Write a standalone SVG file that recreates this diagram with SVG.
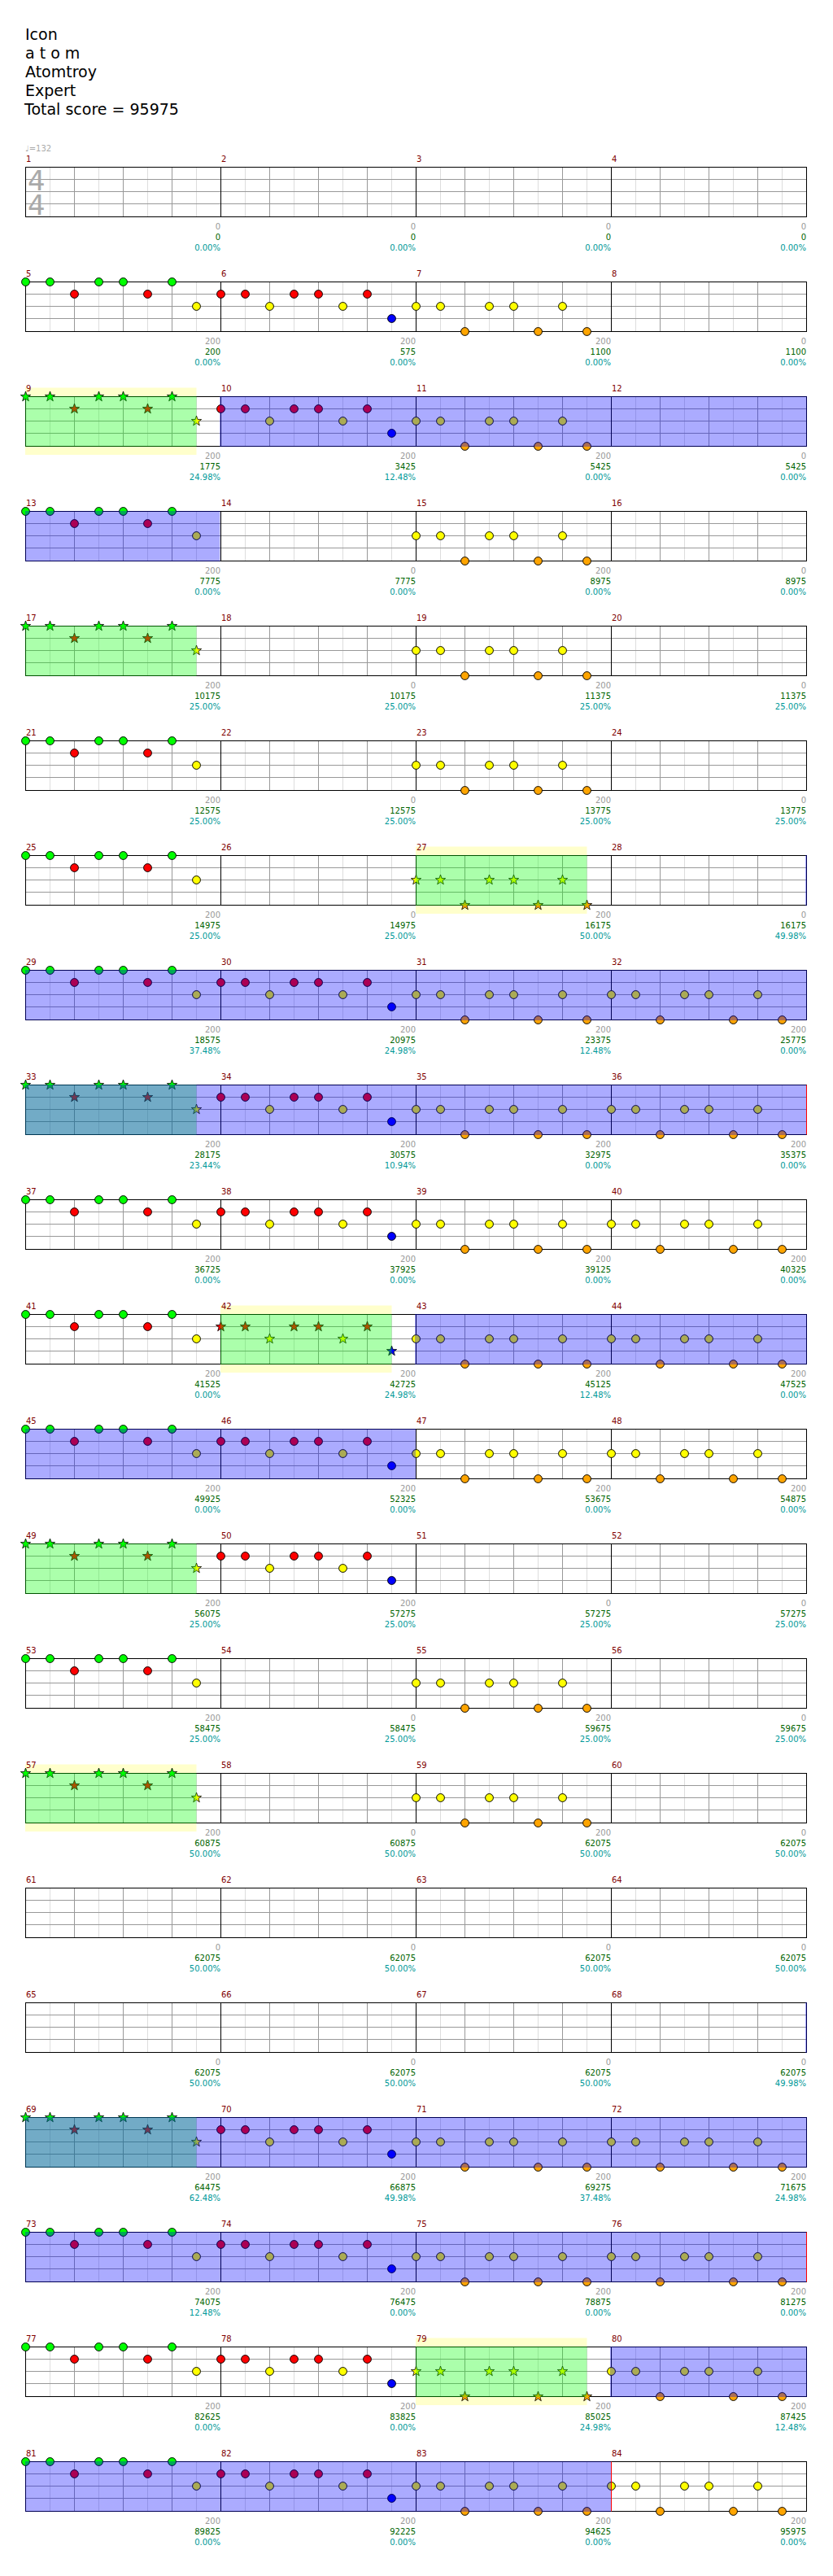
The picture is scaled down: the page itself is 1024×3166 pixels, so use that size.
<svg xmlns="http://www.w3.org/2000/svg" xmlns:xlink="http://www.w3.org/1999/xlink" width="1024" height="3166" viewBox="0 0 1024 3166">
<style>
text{font-family:"DejaVu Sans",sans-serif}
.h{font-size:19px;fill:#000}
.mn{font-size:10px;fill:#800000}
.a,.b,.c{font-size:10px;text-anchor:end}
.a{fill:#999}
.b{fill:#006400}
.c{fill:#009999}
.ts{font-size:34px;fill:#aaa}
.tp{font-size:10px;fill:#aaa}
.yb{fill:#ffffcc}
.gov{fill:#00ff00;fill-opacity:0.33}
.bov{fill:#0000ff;fill-opacity:0.33}
</style>
<defs>
<path id="st" d="M0,-6.5L1.53,-2.1L6.18,-2.01L2.47,0.8L3.82,5.26L0,2.6L-3.82,5.26L-2.47,0.8L-6.18,-2.01L-1.53,-2.1Z"/>
<g id="staff">
<rect x="31.5" y="0" width="960" height="61" fill="#fff"/>
<path stroke="#ddd" fill="none" d="M61.5 0V61M121.5 0V61M181.5 0V61M241.5 0V61M301.5 0V61M361.5 0V61M421.5 0V61M481.5 0V61M541.5 0V61M601.5 0V61M661.5 0V61M721.5 0V61M781.5 0V61M841.5 0V61M901.5 0V61M961.5 0V61"/>
<path stroke="#999" fill="none" d="M91.5 0V61M151.5 0V61M211.5 0V61M331.5 0V61M391.5 0V61M451.5 0V61M571.5 0V61M631.5 0V61M691.5 0V61M811.5 0V61M871.5 0V61M931.5 0V61M31.5 15H991.5M31.5 30H991.5M31.5 45H991.5"/>
<path stroke="#000" fill="none" d="M271.5 0V61M511.5 0V61M751.5 0V61"/>
<rect x="31.5" y="0" width="960" height="61" fill="none" stroke="#000"/>
</g>
<g id="pA" stroke="#000">
<circle cx="0" cy="0" r="4.9" fill="#00ff00"/><circle cx="30" cy="0" r="4.9" fill="#00ff00"/><circle cx="90" cy="0" r="4.9" fill="#00ff00"/><circle cx="120" cy="0" r="4.9" fill="#00ff00"/><circle cx="180" cy="0" r="4.9" fill="#00ff00"/>
<circle cx="60" cy="15" r="4.9" fill="#ff0000"/><circle cx="150" cy="15" r="4.9" fill="#ff0000"/>
<circle cx="210" cy="30" r="4.9" fill="#ffff00"/>
</g>
<g id="pB" stroke="#000">
<circle cx="0" cy="15" r="4.9" fill="#ff0000"/><circle cx="30" cy="15" r="4.9" fill="#ff0000"/><circle cx="90" cy="15" r="4.9" fill="#ff0000"/><circle cx="120" cy="15" r="4.9" fill="#ff0000"/><circle cx="180" cy="15" r="4.9" fill="#ff0000"/>
<circle cx="60" cy="30" r="4.9" fill="#ffff00"/><circle cx="150" cy="30" r="4.9" fill="#ffff00"/>
<circle cx="210" cy="45" r="4.9" fill="#0000ff"/>
</g>
<g id="pC" stroke="#000">
<circle cx="0" cy="30" r="4.9" fill="#ffff00"/><circle cx="30" cy="30" r="4.9" fill="#ffff00"/><circle cx="90" cy="30" r="4.9" fill="#ffff00"/><circle cx="120" cy="30" r="4.9" fill="#ffff00"/><circle cx="180" cy="30" r="4.9" fill="#ffff00"/>
<circle cx="60" cy="61" r="4.9" fill="#ffa500"/><circle cx="150" cy="61" r="4.9" fill="#ffa500"/><circle cx="210" cy="61" r="4.9" fill="#ffa500"/>
</g>
<g id="sA" stroke="#000" stroke-width="0.8">
<use href="#st" x="0" y="0" fill="#00ff00"/><use href="#st" x="30" y="0" fill="#00ff00"/><use href="#st" x="90" y="0" fill="#00ff00"/><use href="#st" x="120" y="0" fill="#00ff00"/><use href="#st" x="180" y="0" fill="#00ff00"/>
<use href="#st" x="60" y="15" fill="#ff0000"/><use href="#st" x="150" y="15" fill="#ff0000"/>
<use href="#st" x="210" y="30" fill="#ffff00"/>
</g>
<g id="sB" stroke="#000" stroke-width="0.8">
<use href="#st" x="0" y="15" fill="#ff0000"/><use href="#st" x="30" y="15" fill="#ff0000"/><use href="#st" x="90" y="15" fill="#ff0000"/><use href="#st" x="120" y="15" fill="#ff0000"/><use href="#st" x="180" y="15" fill="#ff0000"/>
<use href="#st" x="60" y="30" fill="#ffff00"/><use href="#st" x="150" y="30" fill="#ffff00"/>
<use href="#st" x="210" y="45" fill="#0000ff"/>
</g>
<g id="sC" stroke="#000" stroke-width="0.8">
<use href="#st" x="0" y="30" fill="#ffff00"/><use href="#st" x="30" y="30" fill="#ffff00"/><use href="#st" x="90" y="30" fill="#ffff00"/><use href="#st" x="120" y="30" fill="#ffff00"/><use href="#st" x="180" y="30" fill="#ffff00"/>
<use href="#st" x="60" y="61" fill="#ffa500"/><use href="#st" x="150" y="61" fill="#ffa500"/><use href="#st" x="210" y="61" fill="#ffa500"/>
</g>
</defs>
<rect width="1024" height="3166" fill="#fff"/>
<g id="header">
<text class="h" x="31" y="49">Icon</text>
<text class="h" x="31" y="72">a t o m</text>
<text class="h" x="31" y="95">Atomtroy</text>
<text class="h" x="31" y="118">Expert</text>
<text class="h" x="30" y="141">Total score = 95975</text>
</g>
<g id="row-1" transform="translate(0,205.5)">
<text class="tp" x="31" y="-20">♩=132</text>
<use href="#staff"/>
<text class="ts" x="34" y="28">4<tspan x="34" y="58">4</tspan></text>
<text class="mn" x="32" y="-7">1</text><text class="mn" x="272" y="-7">2</text><text class="mn" x="512" y="-7">3</text><text class="mn" x="752" y="-7">4</text>
<text class="a" x="271" y="76.5">0</text><text class="b" x="271" y="89.5">0</text><text class="c" x="271" y="102.5">0.00%</text>
<text class="a" x="511" y="76.5">0</text><text class="b" x="511" y="89.5">0</text><text class="c" x="511" y="102.5">0.00%</text>
<text class="a" x="751" y="76.5">0</text><text class="b" x="751" y="89.5">0</text><text class="c" x="751" y="102.5">0.00%</text>
<text class="a" x="991" y="76.5">0</text><text class="b" x="991" y="89.5">0</text><text class="c" x="991" y="102.5">0.00%</text>
</g>
<g id="row-5" transform="translate(0,346.5)">
<use href="#staff"/>
<use href="#pA" x="31.5"/><use href="#pB" x="271.5"/><use href="#pC" x="511.5"/>
<text class="mn" x="32" y="-7">5</text><text class="mn" x="272" y="-7">6</text><text class="mn" x="512" y="-7">7</text><text class="mn" x="752" y="-7">8</text>
<text class="a" x="271" y="76.5">200</text><text class="b" x="271" y="89.5">200</text><text class="c" x="271" y="102.5">0.00%</text>
<text class="a" x="511" y="76.5">200</text><text class="b" x="511" y="89.5">575</text><text class="c" x="511" y="102.5">0.00%</text>
<text class="a" x="751" y="76.5">200</text><text class="b" x="751" y="89.5">1100</text><text class="c" x="751" y="102.5">0.00%</text>
<text class="a" x="991" y="76.5">0</text><text class="b" x="991" y="89.5">1100</text><text class="c" x="991" y="102.5">0.00%</text>
</g>
<g id="row-9" transform="translate(0,487.5)">
<rect class="yb" x="31" y="-11" width="210.5" height="82.5"/>
<use href="#staff"/>
<use href="#sA" x="31.5"/><use href="#pB" x="271.5"/><use href="#pC" x="511.5"/>
<rect class="gov" x="31" y="-0.5" width="210.5" height="62"/>
<rect class="bov" x="270" y="-0.5" width="722" height="62"/>
<text class="mn" x="32" y="-7">9</text><text class="mn" x="272" y="-7">10</text><text class="mn" x="512" y="-7">11</text><text class="mn" x="752" y="-7">12</text>
<text class="a" x="271" y="76.5">200</text><text class="b" x="271" y="89.5">1775</text><text class="c" x="271" y="102.5">24.98%</text>
<text class="a" x="511" y="76.5">200</text><text class="b" x="511" y="89.5">3425</text><text class="c" x="511" y="102.5">12.48%</text>
<text class="a" x="751" y="76.5">200</text><text class="b" x="751" y="89.5">5425</text><text class="c" x="751" y="102.5">0.00%</text>
<text class="a" x="991" y="76.5">0</text><text class="b" x="991" y="89.5">5425</text><text class="c" x="991" y="102.5">0.00%</text>
</g>
<g id="row-13" transform="translate(0,628.5)">
<use href="#staff"/>
<use href="#pA" x="31.5"/><use href="#pC" x="511.5"/>
<rect class="bov" x="31" y="-0.5" width="239.5" height="62"/>
<text class="mn" x="32" y="-7">13</text><text class="mn" x="272" y="-7">14</text><text class="mn" x="512" y="-7">15</text><text class="mn" x="752" y="-7">16</text>
<text class="a" x="271" y="76.5">200</text><text class="b" x="271" y="89.5">7775</text><text class="c" x="271" y="102.5">0.00%</text>
<text class="a" x="511" y="76.5">0</text><text class="b" x="511" y="89.5">7775</text><text class="c" x="511" y="102.5">0.00%</text>
<text class="a" x="751" y="76.5">200</text><text class="b" x="751" y="89.5">8975</text><text class="c" x="751" y="102.5">0.00%</text>
<text class="a" x="991" y="76.5">0</text><text class="b" x="991" y="89.5">8975</text><text class="c" x="991" y="102.5">0.00%</text>
</g>
<g id="row-17" transform="translate(0,769.5)">
<use href="#staff"/>
<use href="#sA" x="31.5"/><use href="#pC" x="511.5"/>
<rect class="gov" x="31" y="-0.5" width="210.5" height="62"/>
<text class="mn" x="32" y="-7">17</text><text class="mn" x="272" y="-7">18</text><text class="mn" x="512" y="-7">19</text><text class="mn" x="752" y="-7">20</text>
<text class="a" x="271" y="76.5">200</text><text class="b" x="271" y="89.5">10175</text><text class="c" x="271" y="102.5">25.00%</text>
<text class="a" x="511" y="76.5">0</text><text class="b" x="511" y="89.5">10175</text><text class="c" x="511" y="102.5">25.00%</text>
<text class="a" x="751" y="76.5">200</text><text class="b" x="751" y="89.5">11375</text><text class="c" x="751" y="102.5">25.00%</text>
<text class="a" x="991" y="76.5">0</text><text class="b" x="991" y="89.5">11375</text><text class="c" x="991" y="102.5">25.00%</text>
</g>
<g id="row-21" transform="translate(0,910.5)">
<use href="#staff"/>
<use href="#pA" x="31.5"/><use href="#pC" x="511.5"/>
<text class="mn" x="32" y="-7">21</text><text class="mn" x="272" y="-7">22</text><text class="mn" x="512" y="-7">23</text><text class="mn" x="752" y="-7">24</text>
<text class="a" x="271" y="76.5">200</text><text class="b" x="271" y="89.5">12575</text><text class="c" x="271" y="102.5">25.00%</text>
<text class="a" x="511" y="76.5">0</text><text class="b" x="511" y="89.5">12575</text><text class="c" x="511" y="102.5">25.00%</text>
<text class="a" x="751" y="76.5">200</text><text class="b" x="751" y="89.5">13775</text><text class="c" x="751" y="102.5">25.00%</text>
<text class="a" x="991" y="76.5">0</text><text class="b" x="991" y="89.5">13775</text><text class="c" x="991" y="102.5">25.00%</text>
</g>
<g id="row-25" transform="translate(0,1051.5)">
<rect class="yb" x="511" y="-11" width="210.5" height="82.5"/>
<use href="#staff"/>
<use href="#pA" x="31.5"/><use href="#sC" x="511.5"/>
<rect class="gov" x="511" y="-0.5" width="210.5" height="62"/>
<rect class="bov" x="990" y="-0.5" width="2" height="62"/>
<text class="mn" x="32" y="-7">25</text><text class="mn" x="272" y="-7">26</text><text class="mn" x="512" y="-7">27</text><text class="mn" x="752" y="-7">28</text>
<text class="a" x="271" y="76.5">200</text><text class="b" x="271" y="89.5">14975</text><text class="c" x="271" y="102.5">25.00%</text>
<text class="a" x="511" y="76.5">0</text><text class="b" x="511" y="89.5">14975</text><text class="c" x="511" y="102.5">25.00%</text>
<text class="a" x="751" y="76.5">200</text><text class="b" x="751" y="89.5">16175</text><text class="c" x="751" y="102.5">50.00%</text>
<text class="a" x="991" y="76.5">0</text><text class="b" x="991" y="89.5">16175</text><text class="c" x="991" y="102.5">49.98%</text>
</g>
<g id="row-29" transform="translate(0,1192.5)">
<use href="#staff"/>
<use href="#pA" x="31.5"/><use href="#pB" x="271.5"/><use href="#pC" x="511.5"/><use href="#pC" x="751.5"/>
<rect class="bov" x="31" y="-0.5" width="961" height="62"/>
<text class="mn" x="32" y="-7">29</text><text class="mn" x="272" y="-7">30</text><text class="mn" x="512" y="-7">31</text><text class="mn" x="752" y="-7">32</text>
<text class="a" x="271" y="76.5">200</text><text class="b" x="271" y="89.5">18575</text><text class="c" x="271" y="102.5">37.48%</text>
<text class="a" x="511" y="76.5">200</text><text class="b" x="511" y="89.5">20975</text><text class="c" x="511" y="102.5">24.98%</text>
<text class="a" x="751" y="76.5">200</text><text class="b" x="751" y="89.5">23375</text><text class="c" x="751" y="102.5">12.48%</text>
<text class="a" x="991" y="76.5">200</text><text class="b" x="991" y="89.5">25775</text><text class="c" x="991" y="102.5">0.00%</text>
</g>
<g id="row-33" transform="translate(0,1333.5)">
<use href="#staff"/>
<use href="#sA" x="31.5"/><use href="#pB" x="271.5"/><use href="#pC" x="511.5"/><use href="#pC" x="751.5"/>
<rect class="gov" x="31" y="-0.5" width="210.5" height="62"/>
<rect class="bov" x="31" y="-0.5" width="960" height="62"/>
<path d="M991.5 0V61" stroke="#ff0000"/>
<text class="mn" x="32" y="-7">33</text><text class="mn" x="272" y="-7">34</text><text class="mn" x="512" y="-7">35</text><text class="mn" x="752" y="-7">36</text>
<text class="a" x="271" y="76.5">200</text><text class="b" x="271" y="89.5">28175</text><text class="c" x="271" y="102.5">23.44%</text>
<text class="a" x="511" y="76.5">200</text><text class="b" x="511" y="89.5">30575</text><text class="c" x="511" y="102.5">10.94%</text>
<text class="a" x="751" y="76.5">200</text><text class="b" x="751" y="89.5">32975</text><text class="c" x="751" y="102.5">0.00%</text>
<text class="a" x="991" y="76.5">200</text><text class="b" x="991" y="89.5">35375</text><text class="c" x="991" y="102.5">0.00%</text>
</g>
<g id="row-37" transform="translate(0,1474.5)">
<use href="#staff"/>
<use href="#pA" x="31.5"/><use href="#pB" x="271.5"/><use href="#pC" x="511.5"/><use href="#pC" x="751.5"/>
<text class="mn" x="32" y="-7">37</text><text class="mn" x="272" y="-7">38</text><text class="mn" x="512" y="-7">39</text><text class="mn" x="752" y="-7">40</text>
<text class="a" x="271" y="76.5">200</text><text class="b" x="271" y="89.5">36725</text><text class="c" x="271" y="102.5">0.00%</text>
<text class="a" x="511" y="76.5">200</text><text class="b" x="511" y="89.5">37925</text><text class="c" x="511" y="102.5">0.00%</text>
<text class="a" x="751" y="76.5">200</text><text class="b" x="751" y="89.5">39125</text><text class="c" x="751" y="102.5">0.00%</text>
<text class="a" x="991" y="76.5">200</text><text class="b" x="991" y="89.5">40325</text><text class="c" x="991" y="102.5">0.00%</text>
</g>
<g id="row-41" transform="translate(0,1615.5)">
<rect class="yb" x="271" y="-11" width="210.5" height="82.5"/>
<use href="#staff"/>
<use href="#pA" x="31.5"/><use href="#sB" x="271.5"/><use href="#pC" x="511.5"/><use href="#pC" x="751.5"/>
<rect class="gov" x="271" y="-0.5" width="210.5" height="62"/>
<rect class="bov" x="510" y="-0.5" width="482" height="62"/>
<text class="mn" x="32" y="-7">41</text><text class="mn" x="272" y="-7">42</text><text class="mn" x="512" y="-7">43</text><text class="mn" x="752" y="-7">44</text>
<text class="a" x="271" y="76.5">200</text><text class="b" x="271" y="89.5">41525</text><text class="c" x="271" y="102.5">0.00%</text>
<text class="a" x="511" y="76.5">200</text><text class="b" x="511" y="89.5">42725</text><text class="c" x="511" y="102.5">24.98%</text>
<text class="a" x="751" y="76.5">200</text><text class="b" x="751" y="89.5">45125</text><text class="c" x="751" y="102.5">12.48%</text>
<text class="a" x="991" y="76.5">200</text><text class="b" x="991" y="89.5">47525</text><text class="c" x="991" y="102.5">0.00%</text>
</g>
<g id="row-45" transform="translate(0,1756.5)">
<use href="#staff"/>
<use href="#pA" x="31.5"/><use href="#pB" x="271.5"/><use href="#pC" x="511.5"/><use href="#pC" x="751.5"/>
<rect class="bov" x="31" y="-0.5" width="480" height="62"/>
<text class="mn" x="32" y="-7">45</text><text class="mn" x="272" y="-7">46</text><text class="mn" x="512" y="-7">47</text><text class="mn" x="752" y="-7">48</text>
<text class="a" x="271" y="76.5">200</text><text class="b" x="271" y="89.5">49925</text><text class="c" x="271" y="102.5">0.00%</text>
<text class="a" x="511" y="76.5">200</text><text class="b" x="511" y="89.5">52325</text><text class="c" x="511" y="102.5">0.00%</text>
<text class="a" x="751" y="76.5">200</text><text class="b" x="751" y="89.5">53675</text><text class="c" x="751" y="102.5">0.00%</text>
<text class="a" x="991" y="76.5">200</text><text class="b" x="991" y="89.5">54875</text><text class="c" x="991" y="102.5">0.00%</text>
</g>
<g id="row-49" transform="translate(0,1897.5)">
<use href="#staff"/>
<use href="#sA" x="31.5"/><use href="#pB" x="271.5"/>
<rect class="gov" x="31" y="-0.5" width="210.5" height="62"/>
<text class="mn" x="32" y="-7">49</text><text class="mn" x="272" y="-7">50</text><text class="mn" x="512" y="-7">51</text><text class="mn" x="752" y="-7">52</text>
<text class="a" x="271" y="76.5">200</text><text class="b" x="271" y="89.5">56075</text><text class="c" x="271" y="102.5">25.00%</text>
<text class="a" x="511" y="76.5">200</text><text class="b" x="511" y="89.5">57275</text><text class="c" x="511" y="102.5">25.00%</text>
<text class="a" x="751" y="76.5">0</text><text class="b" x="751" y="89.5">57275</text><text class="c" x="751" y="102.5">25.00%</text>
<text class="a" x="991" y="76.5">0</text><text class="b" x="991" y="89.5">57275</text><text class="c" x="991" y="102.5">25.00%</text>
</g>
<g id="row-53" transform="translate(0,2038.5)">
<use href="#staff"/>
<use href="#pA" x="31.5"/><use href="#pC" x="511.5"/>
<text class="mn" x="32" y="-7">53</text><text class="mn" x="272" y="-7">54</text><text class="mn" x="512" y="-7">55</text><text class="mn" x="752" y="-7">56</text>
<text class="a" x="271" y="76.5">200</text><text class="b" x="271" y="89.5">58475</text><text class="c" x="271" y="102.5">25.00%</text>
<text class="a" x="511" y="76.5">0</text><text class="b" x="511" y="89.5">58475</text><text class="c" x="511" y="102.5">25.00%</text>
<text class="a" x="751" y="76.5">200</text><text class="b" x="751" y="89.5">59675</text><text class="c" x="751" y="102.5">25.00%</text>
<text class="a" x="991" y="76.5">0</text><text class="b" x="991" y="89.5">59675</text><text class="c" x="991" y="102.5">25.00%</text>
</g>
<g id="row-57" transform="translate(0,2179.5)">
<rect class="yb" x="31" y="-11" width="210.5" height="82.5"/>
<use href="#staff"/>
<use href="#sA" x="31.5"/><use href="#pC" x="511.5"/>
<rect class="gov" x="31" y="-0.5" width="210.5" height="62"/>
<text class="mn" x="32" y="-7">57</text><text class="mn" x="272" y="-7">58</text><text class="mn" x="512" y="-7">59</text><text class="mn" x="752" y="-7">60</text>
<text class="a" x="271" y="76.5">200</text><text class="b" x="271" y="89.5">60875</text><text class="c" x="271" y="102.5">50.00%</text>
<text class="a" x="511" y="76.5">0</text><text class="b" x="511" y="89.5">60875</text><text class="c" x="511" y="102.5">50.00%</text>
<text class="a" x="751" y="76.5">200</text><text class="b" x="751" y="89.5">62075</text><text class="c" x="751" y="102.5">50.00%</text>
<text class="a" x="991" y="76.5">0</text><text class="b" x="991" y="89.5">62075</text><text class="c" x="991" y="102.5">50.00%</text>
</g>
<g id="row-61" transform="translate(0,2320.5)">
<use href="#staff"/>
<text class="mn" x="32" y="-7">61</text><text class="mn" x="272" y="-7">62</text><text class="mn" x="512" y="-7">63</text><text class="mn" x="752" y="-7">64</text>
<text class="a" x="271" y="76.5">0</text><text class="b" x="271" y="89.5">62075</text><text class="c" x="271" y="102.5">50.00%</text>
<text class="a" x="511" y="76.5">0</text><text class="b" x="511" y="89.5">62075</text><text class="c" x="511" y="102.5">50.00%</text>
<text class="a" x="751" y="76.5">0</text><text class="b" x="751" y="89.5">62075</text><text class="c" x="751" y="102.5">50.00%</text>
<text class="a" x="991" y="76.5">0</text><text class="b" x="991" y="89.5">62075</text><text class="c" x="991" y="102.5">50.00%</text>
</g>
<g id="row-65" transform="translate(0,2461.5)">
<use href="#staff"/>
<rect class="bov" x="990" y="-0.5" width="2" height="62"/>
<text class="mn" x="32" y="-7">65</text><text class="mn" x="272" y="-7">66</text><text class="mn" x="512" y="-7">67</text><text class="mn" x="752" y="-7">68</text>
<text class="a" x="271" y="76.5">0</text><text class="b" x="271" y="89.5">62075</text><text class="c" x="271" y="102.5">50.00%</text>
<text class="a" x="511" y="76.5">0</text><text class="b" x="511" y="89.5">62075</text><text class="c" x="511" y="102.5">50.00%</text>
<text class="a" x="751" y="76.5">0</text><text class="b" x="751" y="89.5">62075</text><text class="c" x="751" y="102.5">50.00%</text>
<text class="a" x="991" y="76.5">0</text><text class="b" x="991" y="89.5">62075</text><text class="c" x="991" y="102.5">49.98%</text>
</g>
<g id="row-69" transform="translate(0,2602.5)">
<use href="#staff"/>
<use href="#sA" x="31.5"/><use href="#pB" x="271.5"/><use href="#pC" x="511.5"/><use href="#pC" x="751.5"/>
<rect class="gov" x="31" y="-0.5" width="210.5" height="62"/>
<rect class="bov" x="31" y="-0.5" width="961" height="62"/>
<text class="mn" x="32" y="-7">69</text><text class="mn" x="272" y="-7">70</text><text class="mn" x="512" y="-7">71</text><text class="mn" x="752" y="-7">72</text>
<text class="a" x="271" y="76.5">200</text><text class="b" x="271" y="89.5">64475</text><text class="c" x="271" y="102.5">62.48%</text>
<text class="a" x="511" y="76.5">200</text><text class="b" x="511" y="89.5">66875</text><text class="c" x="511" y="102.5">49.98%</text>
<text class="a" x="751" y="76.5">200</text><text class="b" x="751" y="89.5">69275</text><text class="c" x="751" y="102.5">37.48%</text>
<text class="a" x="991" y="76.5">200</text><text class="b" x="991" y="89.5">71675</text><text class="c" x="991" y="102.5">24.98%</text>
</g>
<g id="row-73" transform="translate(0,2743.5)">
<use href="#staff"/>
<use href="#pA" x="31.5"/><use href="#pB" x="271.5"/><use href="#pC" x="511.5"/><use href="#pC" x="751.5"/>
<rect class="bov" x="31" y="-0.5" width="960" height="62"/>
<path d="M991.5 0V61" stroke="#ff0000"/>
<text class="mn" x="32" y="-7">73</text><text class="mn" x="272" y="-7">74</text><text class="mn" x="512" y="-7">75</text><text class="mn" x="752" y="-7">76</text>
<text class="a" x="271" y="76.5">200</text><text class="b" x="271" y="89.5">74075</text><text class="c" x="271" y="102.5">12.48%</text>
<text class="a" x="511" y="76.5">200</text><text class="b" x="511" y="89.5">76475</text><text class="c" x="511" y="102.5">0.00%</text>
<text class="a" x="751" y="76.5">200</text><text class="b" x="751" y="89.5">78875</text><text class="c" x="751" y="102.5">0.00%</text>
<text class="a" x="991" y="76.5">200</text><text class="b" x="991" y="89.5">81275</text><text class="c" x="991" y="102.5">0.00%</text>
</g>
<g id="row-77" transform="translate(0,2884.5)">
<rect class="yb" x="511" y="-11" width="210.5" height="82.5"/>
<use href="#staff"/>
<use href="#pA" x="31.5"/><use href="#pB" x="271.5"/><use href="#sC" x="511.5"/><use href="#pC" x="751.5"/>
<rect class="gov" x="511" y="-0.5" width="210.5" height="62"/>
<rect class="bov" x="750" y="-0.5" width="242" height="62"/>
<text class="mn" x="32" y="-7">77</text><text class="mn" x="272" y="-7">78</text><text class="mn" x="512" y="-7">79</text><text class="mn" x="752" y="-7">80</text>
<text class="a" x="271" y="76.5">200</text><text class="b" x="271" y="89.5">82625</text><text class="c" x="271" y="102.5">0.00%</text>
<text class="a" x="511" y="76.5">200</text><text class="b" x="511" y="89.5">83825</text><text class="c" x="511" y="102.5">0.00%</text>
<text class="a" x="751" y="76.5">200</text><text class="b" x="751" y="89.5">85025</text><text class="c" x="751" y="102.5">24.98%</text>
<text class="a" x="991" y="76.5">200</text><text class="b" x="991" y="89.5">87425</text><text class="c" x="991" y="102.5">12.48%</text>
</g>
<g id="row-81" transform="translate(0,3025.5)">
<use href="#staff"/>
<use href="#pA" x="31.5"/><use href="#pB" x="271.5"/><use href="#pC" x="511.5"/><use href="#pC" x="751.5"/>
<rect class="bov" x="31" y="-0.5" width="720" height="62"/>
<path d="M751.5 0V61" stroke="#ff0000"/>
<text class="mn" x="32" y="-7">81</text><text class="mn" x="272" y="-7">82</text><text class="mn" x="512" y="-7">83</text><text class="mn" x="752" y="-7">84</text>
<text class="a" x="271" y="76.5">200</text><text class="b" x="271" y="89.5">89825</text><text class="c" x="271" y="102.5">0.00%</text>
<text class="a" x="511" y="76.5">200</text><text class="b" x="511" y="89.5">92225</text><text class="c" x="511" y="102.5">0.00%</text>
<text class="a" x="751" y="76.5">200</text><text class="b" x="751" y="89.5">94625</text><text class="c" x="751" y="102.5">0.00%</text>
<text class="a" x="991" y="76.5">200</text><text class="b" x="991" y="89.5">95975</text><text class="c" x="991" y="102.5">0.00%</text>
</g>
</svg>
